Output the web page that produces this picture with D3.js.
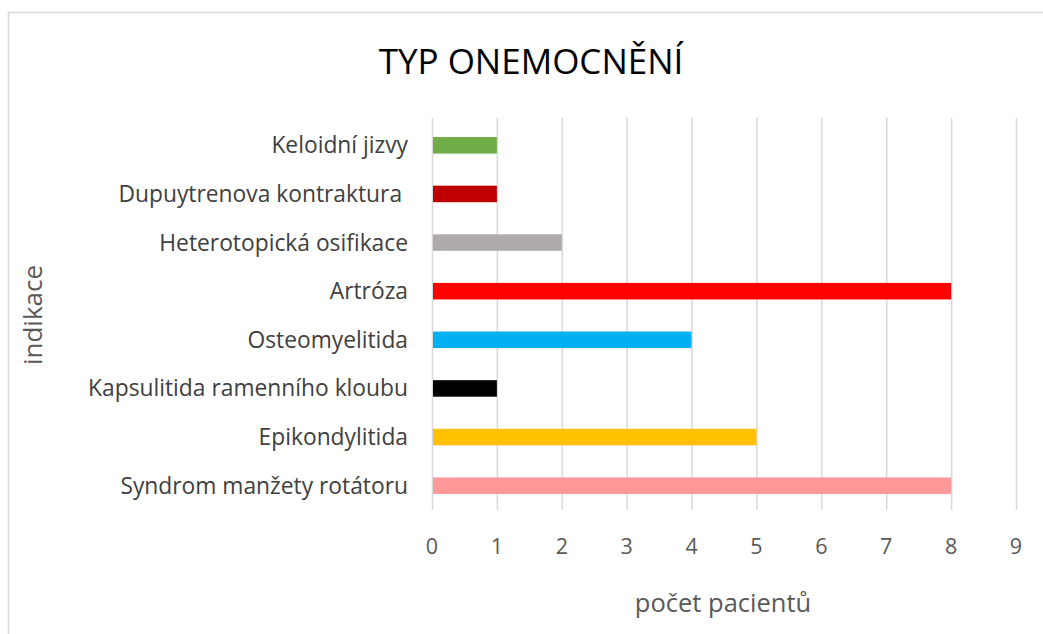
<!DOCTYPE html>
<html>
<head>
<meta charset="utf-8">
<script src="https://cdn.jsdelivr.net/npm/d3@7"></script>
<style>
  body { margin: 0; background: #fff; }
  svg { display: block; font-family: "Open Sans", Lato, sans-serif; }
</style>
</head>
<body>
<svg id="chart"></svg>
<script>
// data, top to bottom as in the chart
const categories = [
  "Keloidní jizvy",
  "Dupuytrenova kontraktura ",
  "Heterotopická osifikace",
  "Artróza",
  "Osteomyelitida",
  "Kapsulitida ramenního kloubu",
  "Epikondylitida",
  "Syndrom manžety rotátoru"
];
const values = [1, 1, 2, 8, 4, 1, 5, 8];
const barColors = ["#70ad47", "#c00000", "#aeaaaa", "#ff0000", "#00b0f0", "#000000", "#ffc000", "#ff9999"];
const xTicks = [0, 1, 2, 3, 4, 5, 6, 7, 8, 9];

const W = 1043, H = 634;
const svg = d3.select('#chart').attr('width', W).attr('height', H);

// chart frame
svg.append('rect')
  .attr('x', 8.5).attr('y', 12.5)
  .attr('width', W).attr('height', H)
  .attr('fill', '#fff')
  .attr('stroke', '#d9d9d9').attr('stroke-width', 1.5);

const plot = { left: 432, right: 1016, top: 121, bottom: 510 };

const x = d3.scaleLinear().domain([0, 9]).range([plot.left, plot.right]);
const y = d3.scaleBand().domain(categories).range([plot.top, plot.bottom]).paddingInner(0.66).paddingOuter(0.33);

// gridlines
svg.append('g')
  .selectAll('line').data(xTicks).enter().append('line')
  .attr('x1', d => x(d) + 0.5).attr('x2', d => x(d) + 0.5)
  .attr('y1', plot.top - 3).attr('y2', plot.bottom)
  .attr('stroke', '#d9d9d9').attr('stroke-width', 1.5);

// bars
svg.append('g')
  .selectAll('rect').data(categories).enter().append('rect')
  .attr('x', x(0) + 1)
  .attr('y', d => y(d))
  .attr('width', (d, i) => x(values[i]) - x(0) - 1)
  .attr('height', y.bandwidth())
  .attr('fill', (d, i) => barColors[i]);

// category labels
svg.append('g')
  .selectAll('text').data(categories).enter().append('text')
  .attr('x', 408)
  .attr('y', d => y(d) + y.bandwidth() / 2)
  .attr('dy', '0.35em')
  .attr('text-anchor', 'end')
  .attr('font-size', 22.8)
  .attr('fill', '#404040')
  .style('white-space', 'pre')
  .text(d => d);

// x tick labels
svg.append('g')
  .selectAll('text').data(xTicks).enter().append('text')
  .attr('x', d => x(d))
  .attr('y', 546)
  .attr('dy', '0.35em')
  .attr('text-anchor', 'middle')
  .attr('font-size', 21.5)
  .attr('fill', '#595959')
  .text(d => d);

// title
svg.append('text')
  .attr('x', 531).attr('y', 62)
  .attr('dy', '0.35em')
  .attr('text-anchor', 'middle')
  .attr('font-size', 35)
  .attr('fill', '#000')
  .text('TYP ONEMOCNĚNÍ');

// axis titles
svg.append('text')
  .attr('x', 723).attr('y', 603)
  .attr('dy', '0.35em')
  .attr('text-anchor', 'middle')
  .attr('font-size', 25.5)
  .attr('fill', '#595959')
  .text('počet pacientů');

svg.append('text')
  .attr('transform', 'translate(33,315) rotate(-90)')
  .attr('dy', '0.35em')
  .attr('text-anchor', 'middle')
  .attr('font-size', 26)
  .attr('fill', '#595959')
  .text('indikace');
</script>
</body>
</html>
